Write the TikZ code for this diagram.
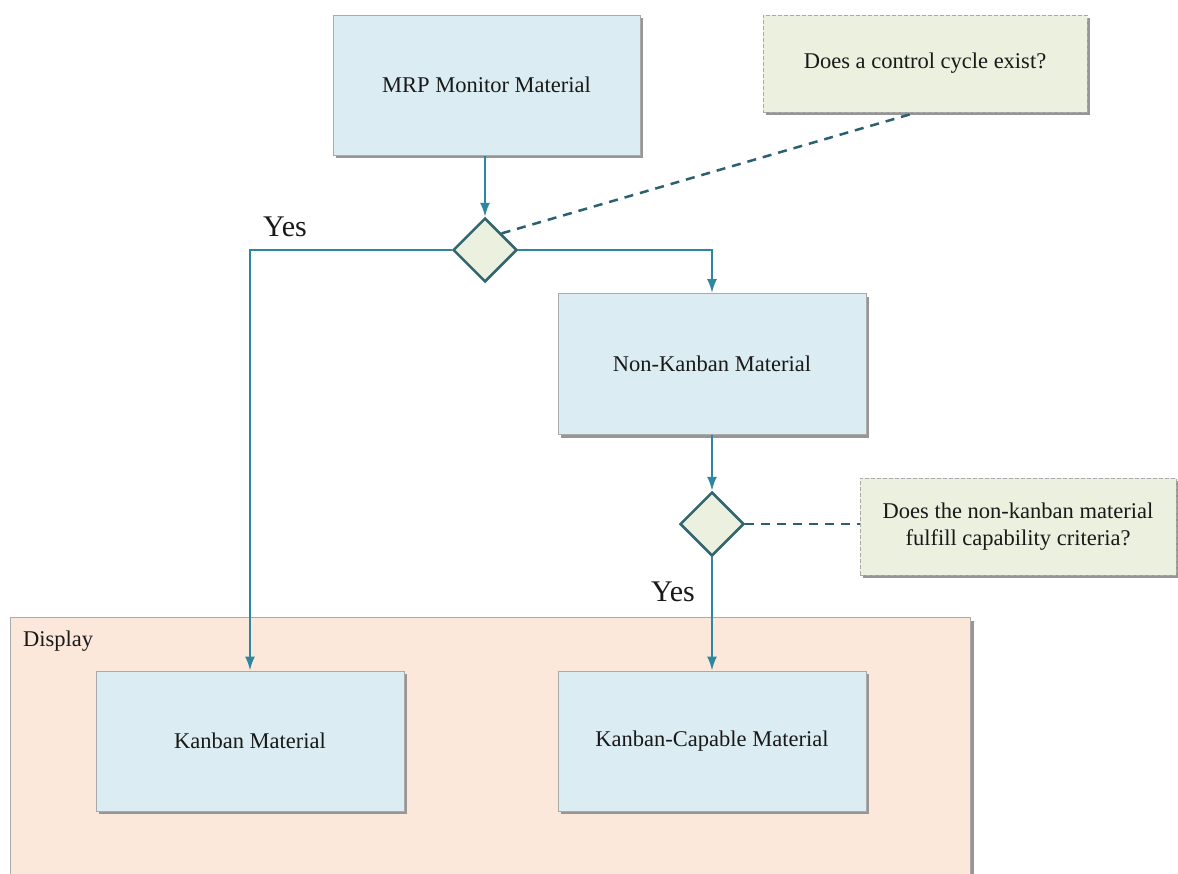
\documentclass[tikz,border=0pt]{standalone}
\usepackage{fontspec}
\setmainfont{Liberation Serif}
\usetikzlibrary{arrows.meta,shapes.geometric,shadows}
\definecolor{kmedge}{RGB}{170,170,170}
\definecolor{kmmat}{RGB}{219,237,243}
\definecolor{kmnote}{RGB}{235,240,223}
\definecolor{kmdisp}{RGB}{252,232,218}
\definecolor{kmflow}{RGB}{46,135,160}
\definecolor{kmdec}{RGB}{50,102,112}
\definecolor{kmdash}{RGB}{42,96,112}
\definecolor{kmshade}{RGB}{150,150,150}
\definecolor{kmtext}{RGB}{25,25,25}
\tikzset{
  kmbox/.style={
    draw=kmedge, line width=1pt, align=center, inner sep=0pt,
    font=\fontsize{22.5}{27}\selectfont, text=kmtext,
    drop shadow={shadow xshift=3pt, shadow yshift=-3pt, fill=kmshade, opacity=1}
  },
  mat/.style={kmbox, fill=kmmat, minimum width=308pt, minimum height=141pt},
  note/.style={kmbox, fill=kmnote, dashed, dash pattern=on 4pt off 2pt, minimum height=97pt},
  disp/.style={kmbox, fill=kmdisp},
  dec/.style={
    diamond, draw=kmdec, fill=kmnote, line width=2.5pt, inner sep=0pt,
    minimum width=64pt, minimum height=64pt
  },
  arr/.style={-{Latex[length=14pt,width=10pt]}, draw=kmflow, line width=2pt},
  darr/.style={draw=kmdash, line width=2.5pt, dash pattern=on 9pt off 7pt},
  yes/.style={font=\fontsize{30}{36}\selectfont, text=kmtext, anchor=base, inner sep=0pt},
  lbl/.style={font=\fontsize{22.5}{27}\selectfont, text=kmtext, anchor=base west, inner sep=0pt}
}
\begin{document}
\begin{tikzpicture}[x=1pt, y=-1pt]
  \useasboundingbox (0,0) rectangle (1178,873);
  \node[disp, anchor=north west, minimum width=960pt, minimum height=275pt] (disp) at (10,617) {};
  \node[lbl] (displbl) at (23,646) {Display};
  \node[mat, minimum width=307pt, minimum height=140pt] (mrp) at (486.5,85) {MRP Monitor Material};
  \node[note, minimum width=324pt] (q1) at (925,63.5) {Does a control cycle exist?};
  \node[dec] (d1) at (485,250) {};
  \node[mat] (nk) at (712,364) {Non-Kanban Material};
  \node[dec] (d2) at (712,524) {};
  \node[note, minimum width=316pt] (q2) at (1018,526.5) {Does the non-kanban material\\fulfill capability criteria?};
  \node[mat, minimum height=140pt] (kb) at (250,741) {Kanban Material};
  \node[mat, minimum height=140pt] (kc) at (712,741) {Kanban-Capable Material};
  \node[yes] (y1) at (285,236) {Yes};
  \node[yes] (y2) at (673,601) {Yes};
  \draw[arr] (d1 |- mrp.south) -- (d1.north);
  \draw[arr] (d1.west) -| (kb.north);
  \draw[arr] (d1.east) -| (nk.north);
  \draw[arr] (nk) -- (d2);
  \draw[arr] (d2) -- (kc);
  \draw[darr] (d1.north east) -- (q1.-100);
  \draw[darr] (d2.east) -- (d2.east -| q2.west);
\end{tikzpicture}
\end{document}
